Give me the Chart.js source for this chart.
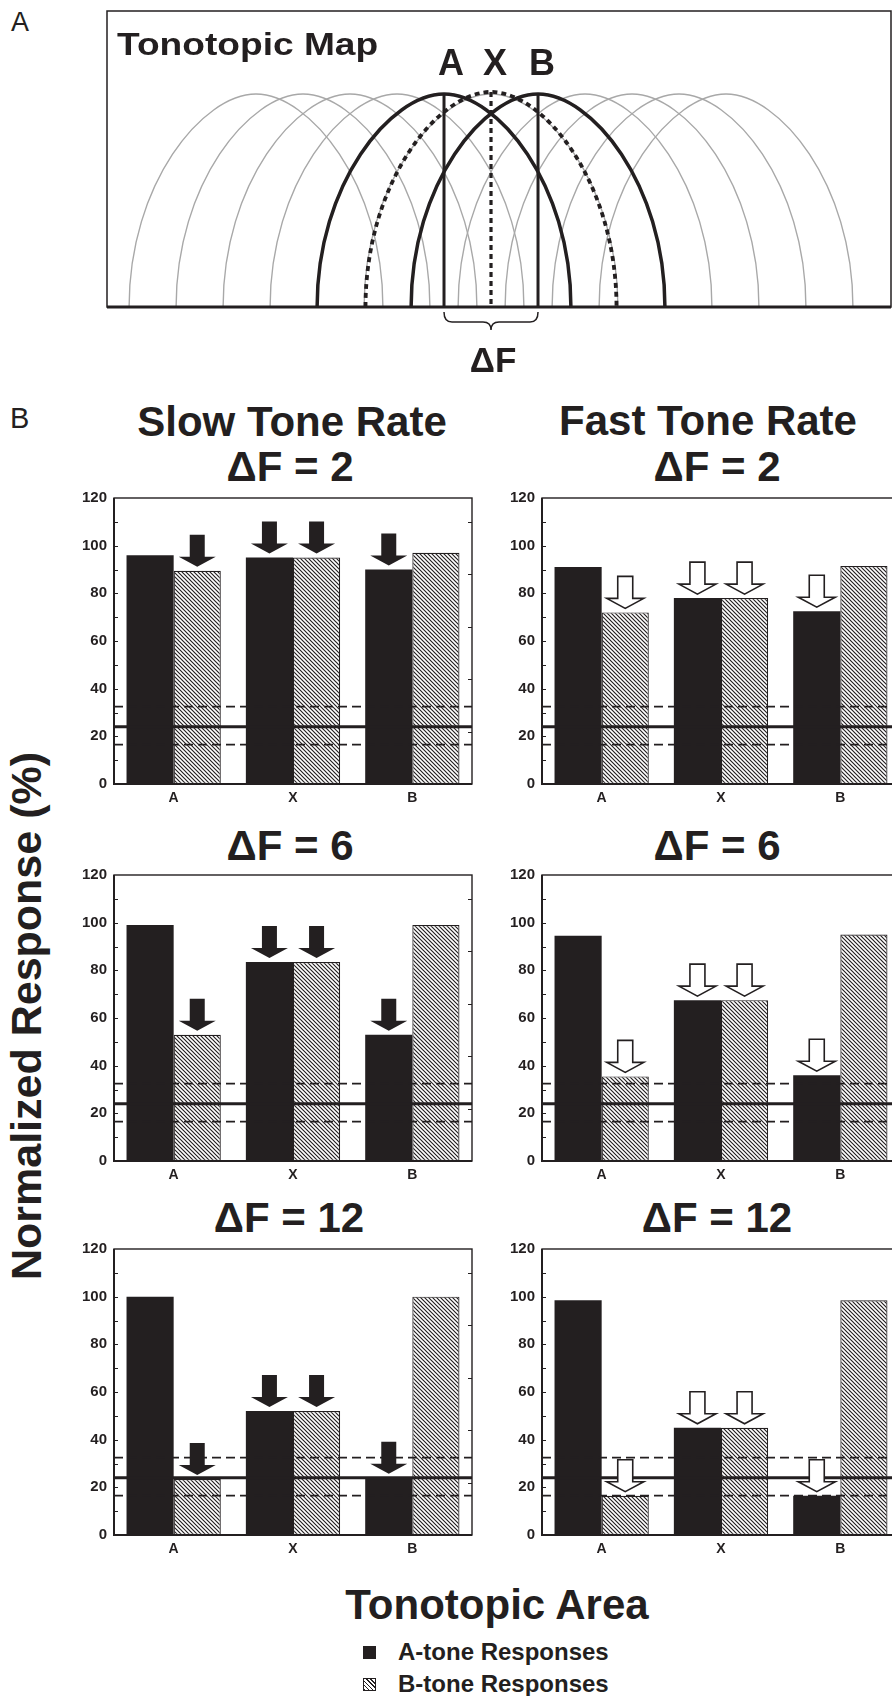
<!DOCTYPE html>
<html>
<head>
<meta charset="utf-8">
<script src="https://cdn.jsdelivr.net/npm/chart.js@4.4.0/dist/chart.umd.min.js"></script>
<style>
html, body { margin: 0; padding: 0; background: #fff; }
body { width: 892px; height: 1696px; position: relative; overflow: hidden;
       font-family: "Liberation Sans", Arial, sans-serif; color: #231f20; }
canvas { position: absolute; }
.t { position: absolute; white-space: nowrap; line-height: 1; font-weight: bold; }
.c { transform: translateX(-50%); }
.sw { position: absolute; width: 13px; height: 13px; box-sizing: border-box; }
</style>
</head>
<body>

<!-- panel A -->
<canvas id="map"></canvas>
<div class="t" style="left:11px;top:9px;font-size:27px;font-weight:normal">A</div>
<div class="t" style="left:117px;top:28px;font-size:32px;transform:scaleX(1.16);transform-origin:left">Tonotopic Map</div>
<div class="t c" style="left:451px;top:45px;font-size:36px">A</div>
<div class="t c" style="left:495px;top:45px;font-size:36px">X</div>
<div class="t c" style="left:542px;top:45px;font-size:36px">B</div>
<div class="t c" style="left:493px;top:342px;font-size:35px">ΔF</div>

<!-- panel B -->
<div class="t" style="left:10px;top:404px;font-size:29px;font-weight:normal">B</div>
<div class="t c" style="left:292px;top:401px;font-size:42px">Slow Tone Rate</div>
<div class="t c" style="left:708px;top:400px;font-size:42px">Fast Tone Rate</div>
<div class="t c" style="left:290px;top:446px;font-size:42px">ΔF = 2</div>
<div class="t c" style="left:717px;top:446px;font-size:42px">ΔF = 2</div>
<div class="t c" style="left:290px;top:825px;font-size:42px">ΔF = 6</div>
<div class="t c" style="left:717px;top:825px;font-size:42px">ΔF = 6</div>
<div class="t c" style="left:289px;top:1197px;font-size:42px">ΔF = 12</div>
<div class="t c" style="left:717px;top:1197px;font-size:42px">ΔF = 12</div>
<div class="t" style="left:26px;top:1016px;font-size:43px;transform:translate(-50%,-50%) rotate(-90deg)">Normalized Response (%)</div>

<canvas id="slow2"></canvas><canvas id="fast2"></canvas>
<canvas id="slow6"></canvas><canvas id="fast6"></canvas>
<canvas id="slow12"></canvas><canvas id="fast12"></canvas>

<div class="t c" style="left:497px;top:1584px;font-size:42px">Tonotopic Area</div>
<div class="sw" style="left:363px;top:1646px;background:#231f20"></div>
<div class="t" style="left:398px;top:1640px;font-size:24px">A-tone Responses</div>
<div class="sw" style="left:363px;top:1678px;border:1px solid #231f20;background:repeating-linear-gradient(45deg,#231f20 0 1px,#fff 1px 3px)"></div>
<div class="t" style="left:398px;top:1672px;font-size:24px">B-tone Responses</div>

<script>
// ---- data ----
const areas = ['A', 'X', 'B'];
const yTicks = [0, 20, 40, 60, 80, 100, 120];

// normalized response (%) of A-tone and B-tone in each tonotopic area
const slow2A = [96, 95, 90],     slow2B = [89.5, 95, 97];
const fast2A = [91, 78, 72.5],   fast2B = [72, 78, 91.5];
const slow6A = [99, 83.5, 53],   slow6B = [53, 83.5, 99];
const fast6A = [94.5, 67.5, 36], fast6B = [35.5, 67.5, 95];
const slow12A = [100, 52, 24],   slow12B = [23.5, 52, 100];
const fast12A = [98.5, 45, 16.5], fast12B = [16.5, 45, 98.5];

// spontaneous level and its band
const baseline = 24;
const baselineBand = [32.5, 16.5];

// which bars carry an arrow
const arrowA = [false, true, true];
const arrowB = [true, true, false];

// tonotopic map: best frequencies of the drawn neurons (grid units)
const mapCenters = [-4, -3, -2, -1, 0, 1, 2, 3, 4, 5, 6];
const toneA = 0, toneX = 1, toneB = 2;
const archHalfWidth = 2.7, archPeak = 1;
const xArchHalfWidth = 2.67, xArchPeak = 1.01;
const mapX = [-7.17, 9.51], mapY = [0, 1.39];

// ---- drawing ----
const ink = '#231f20';
const FONT = '"Liberation Sans", Arial, sans-serif';
Chart.defaults.font.family = FONT;
Chart.defaults.color = ink;

function makeHatch() {
	var c = document.createElement('canvas');
	c.width = 4; c.height = 4;
	var g = c.getContext('2d');
	g.fillStyle = '#fff';
	g.fillRect(0, 0, 4, 4);
	g.strokeStyle = ink;
	g.lineWidth = 1.15;
	g.beginPath();
	g.moveTo(-1, -1); g.lineTo(5, 5);
	g.moveTo(-1, 3); g.lineTo(1, 5);
	g.moveTo(3, -1); g.lineTo(5, 1);
	g.stroke();
	return g.createPattern(c, 'repeat');
}
const hatch = makeHatch();

function drawArrow(ctx, x, tip, filled) {
	var sw = 7.5, hw = 18.5, hh = 10, len = 32;
	ctx.beginPath();
	ctx.moveTo(x - sw, tip - len);
	ctx.lineTo(x + sw, tip - len);
	ctx.lineTo(x + sw, tip - hh);
	ctx.lineTo(x + hw, tip - hh);
	ctx.lineTo(x, tip);
	ctx.lineTo(x - hw, tip - hh);
	ctx.lineTo(x - sw, tip - hh);
	ctx.closePath();
	ctx.setLineDash([]);
	if (filled) {
		ctx.fillStyle = ink;
		ctx.fill();
	} else {
		ctx.fillStyle = '#fff';
		ctx.fill();
		ctx.lineWidth = 1.6;
		ctx.strokeStyle = ink;
		ctx.stroke();
	}
}

function panelDecor(filled) {
	return {
		id: 'panelDecor',
		afterDatasetsDraw(chart) {
			var ctx = chart.ctx, a = chart.chartArea, y = chart.scales.y;
			ctx.save();
			ctx.beginPath();
			ctx.rect(a.left, a.top, a.width, a.height);
			ctx.clip();
			ctx.strokeStyle = ink;
			// spontaneous rate line
			ctx.lineWidth = 3;
			ctx.beginPath();
			ctx.moveTo(a.left, y.getPixelForValue(baseline));
			ctx.lineTo(a.right, y.getPixelForValue(baseline));
			ctx.stroke();
			// band
			ctx.lineWidth = 1.8;
			ctx.setLineDash([9, 5]);
			baselineBand.forEach(function (v) {
				ctx.beginPath();
				ctx.moveTo(a.left, y.getPixelForValue(v));
				ctx.lineTo(a.right, y.getPixelForValue(v));
				ctx.stroke();
			});
			ctx.restore();

			ctx.save();
			chart.data.datasets.forEach(function (ds, di) {
				chart.getDatasetMeta(di).data.forEach(function (bar, i) {
					if (ds.arrows[i]) drawArrow(ctx, bar.x, bar.y - 4, filled);
				});
			});

			// frame and inward ticks
			ctx.strokeStyle = ink;
			ctx.setLineDash([]);
			ctx.lineWidth = 1.4;
			ctx.strokeRect(a.left, a.top, a.width, a.height);
			ctx.lineWidth = 2;
			ctx.beginPath();
			ctx.moveTo(a.left, a.top);
			ctx.lineTo(a.left, a.bottom);
			ctx.lineTo(a.right, a.bottom);
			ctx.stroke();
			ctx.lineWidth = 1;
			ctx.beginPath();
			for (var v = 10; v < 120; v += 10) {
				var py = Math.round(y.getPixelForValue(v)) + 0.5;
				ctx.moveTo(a.left, py); ctx.lineTo(a.left + 4, py);
			}
			for (var w = 22; w < 120; w += 22) {
				var qy = Math.round(y.getPixelForValue(w)) + 0.5;
				ctx.moveTo(a.right, qy); ctx.lineTo(a.right - 4, qy);
			}
			ctx.stroke();
			ctx.restore();
		}
	};
}

const plotW = 358, plotH = 298;

function barChart(id, plotLeft, plotTop, valsA, valsB, filled) {
	var cv = document.getElementById(id);
	cv.width = 50 + plotW + 2;
	cv.height = 4 + plotH + 30;
	cv.style.left = (plotLeft - 50) + 'px';
	cv.style.top = (plotTop - 4) + 'px';
	return new Chart(cv, {
		type: 'bar',
		data: {
			labels: areas,
			datasets: [{
				label: 'A-tone Responses',
				data: valsA,
				backgroundColor: ink,
				borderWidth: 0,
				borderSkipped: false,
				categoryPercentage: 0.79,
				barPercentage: 1,
				arrows: arrowA
			}, {
				label: 'B-tone Responses',
				data: valsB,
				backgroundColor: hatch,
				borderColor: ink,
				borderWidth: 1.2,
				borderSkipped: false,
				categoryPercentage: 0.79,
				barPercentage: 1,
				arrows: arrowB
			}]
		},
		options: {
			responsive: false,
			animation: false,
			devicePixelRatio: 1,
			layout: { padding: { top: 4, right: 2, left: 0, bottom: 0 } },
			plugins: { legend: { display: false }, tooltip: { enabled: false } },
			scales: {
				x: {
					grid: { display: false, drawTicks: false },
					border: { display: false },
					ticks: { padding: 6, color: ink, font: { size: 14, weight: 'bold' } },
					afterFit: function (s) { s.height = 30; }
				},
				y: {
					min: 0,
					max: 120,
					grid: { display: false, drawTicks: false },
					border: { display: false },
					afterBuildTicks: function (s) { s.ticks = yTicks.map(function (v) { return { value: v }; }); },
					ticks: { padding: 7, color: ink, font: { size: 15, weight: 'bold' } },
					afterFit: function (s) { s.width = 50; }
				}
			}
		},
		plugins: [panelDecor(filled)]
	});
}

barChart('slow2', 114, 486, slow2A, slow2B, true);
barChart('fast2', 542, 486, fast2A, fast2B, false);
barChart('slow6', 114, 863, slow6A, slow6B, true);
barChart('fast6', 542, 863, fast6A, fast6B, false);
barChart('slow12', 114, 1237, slow12A, slow12B, true);
barChart('fast12', 542, 1237, fast12A, fast12B, false);

// ---- tonotopic map ----
const mapDecor = {
	id: 'mapDecor',
	afterDraw(chart) {
		var ctx = chart.ctx, a = chart.chartArea, x = chart.scales.x, y = chart.scales.y;
		var y0 = y.getPixelForValue(0);
		// tuning curve: steep flanks, rounded tip
		function arch(c, hw, peak) {
			var cx = x.getPixelForValue(c);
			var rx = x.getPixelForValue(c + hw) - cx;
			var yp = y.getPixelForValue(peak);
			var h = y0 - yp;
			ctx.beginPath();
			ctx.moveTo(cx - rx, y0);
			ctx.bezierCurveTo(cx - rx, y0 - 0.58 * h, cx - 0.42 * rx, yp, cx, yp);
			ctx.bezierCurveTo(cx + 0.42 * rx, yp, cx + rx, y0 - 0.58 * h, cx + rx, y0);
			ctx.stroke();
		}
		function vline(c, peak) {
			var px = x.getPixelForValue(c);
			ctx.beginPath();
			ctx.moveTo(px, y.getPixelForValue(peak));
			ctx.lineTo(px, y0);
			ctx.stroke();
		}
		ctx.save();
		ctx.beginPath();
		ctx.rect(a.left, a.top, a.width, a.height);
		ctx.clip();
		ctx.strokeStyle = '#a8a8a8';
		ctx.lineWidth = 1.4;
		mapCenters.forEach(function (c) { arch(c, archHalfWidth, archPeak); });

		ctx.strokeStyle = ink;
		ctx.lineWidth = 3.5;
		arch(toneA, archHalfWidth, archPeak);
		arch(toneB, archHalfWidth, archPeak);
		ctx.lineWidth = 3;
		vline(toneA, archPeak);
		vline(toneB, archPeak);
		ctx.setLineDash([5, 4]);
		ctx.lineWidth = 3.8;
		arch(toneX, xArchHalfWidth, xArchPeak);
		ctx.lineWidth = 3.2;
		vline(toneX, xArchPeak);
		ctx.restore();

		// frame
		ctx.save();
		ctx.strokeStyle = ink;
		ctx.lineWidth = 1.5;
		ctx.strokeRect(a.left, a.top, a.width, a.height);
		ctx.lineWidth = 3;
		ctx.beginPath();
		ctx.moveTo(a.left, a.bottom);
		ctx.lineTo(a.right, a.bottom);
		ctx.stroke();

		// brace under A..B
		var xa = x.getPixelForValue(toneA), xb = x.getPixelForValue(toneB), xm = (xa + xb) / 2;
		var b0 = a.bottom + 5, b1 = a.bottom + 15, b2 = a.bottom + 23;
		ctx.lineWidth = 1.5;
		ctx.beginPath();
		ctx.moveTo(xa, b0);
		ctx.quadraticCurveTo(xa, b1, xa + 8, b1);
		ctx.lineTo(xm - 8, b1);
		ctx.quadraticCurveTo(xm, b1, xm, b2);
		ctx.quadraticCurveTo(xm, b1, xm + 8, b1);
		ctx.lineTo(xb - 8, b1);
		ctx.quadraticCurveTo(xb, b1, xb, b0);
		ctx.stroke();
		ctx.restore();
	}
};

var mc = document.getElementById('map');
mc.width = 792;
mc.height = 334;
mc.style.left = '103px';
mc.style.top = '7px';
new Chart(mc, {
	type: 'scatter',
	data: { datasets: [] },
	options: {
		responsive: false,
		animation: false,
		devicePixelRatio: 1,
		layout: { padding: { left: 4, top: 4, right: 4, bottom: 34 } },
		plugins: { legend: { display: false }, tooltip: { enabled: false } },
		scales: {
			x: { type: 'linear', min: mapX[0], max: mapX[1], display: false },
			y: { type: 'linear', min: mapY[0], max: mapY[1], display: false }
		}
	},
	plugins: [mapDecor]
});
</script>
</body>
</html>
